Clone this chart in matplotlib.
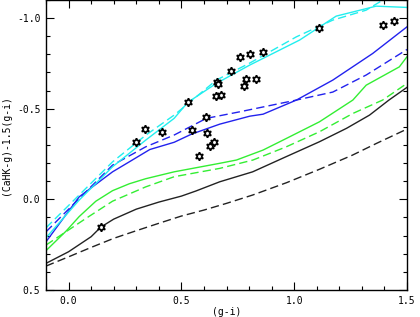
import matplotlib
matplotlib.use('Agg')
import matplotlib.pyplot as plt
from matplotlib.ticker import MultipleLocator

# model tracks, (g-i) vs (CaHK-g)-1.5(g-i)
black_x = [-0.1, 0.0, 0.1, 0.143, 0.2, 0.3, 0.4, 0.5, 0.564, 0.67, 0.816, 0.958, 1.112, 1.232, 1.334, 1.42, 1.5]
black_y = [0.353, 0.289, 0.206, 0.153, 0.109, 0.054, 0.015, -0.018, -0.046, -0.097, -0.152, -0.232, -0.318, -0.392, -0.465, -0.548, -0.618]

black_dash_x = [-0.1, 0.0, 0.1, 0.2, 0.3, 0.4, 0.5, 0.6, 0.7, 0.816, 0.966, 1.112, 1.258, 1.365, 1.5]
black_dash_y = [0.368, 0.317, 0.265, 0.215, 0.173, 0.132, 0.092, 0.059, 0.022, -0.024, -0.092, -0.166, -0.244, -0.309, -0.388]

green_x = [-0.1, -0.011, 0.047, 0.121, 0.195, 0.269, 0.342, 0.468, 0.67, 0.744, 0.862, 0.965, 1.112, 1.26, 1.319, 1.466, 1.5]
green_y = [0.283, 0.175, 0.095, 0.01, -0.048, -0.086, -0.114, -0.152, -0.199, -0.217, -0.272, -0.336, -0.428, -0.548, -0.63, -0.731, -0.787]

green_dash_x = [-0.1, 0.077, 0.195, 0.342, 0.468, 0.67, 0.817, 0.965, 1.112, 1.26, 1.392, 1.5]
green_dash_y = [0.252, 0.105, 0.01, -0.069, -0.125, -0.171, -0.217, -0.29, -0.373, -0.474, -0.548, -0.64]

blue_x = [-0.1, 0.047, 0.195, 0.269, 0.36, 0.468, 0.545, 0.67, 0.803, 0.862, 1.01, 1.171, 1.348, 1.5]
blue_y = [0.234, -0.014, -0.152, -0.207, -0.275, -0.315, -0.36, -0.415, -0.459, -0.47, -0.548, -0.658, -0.805, -0.952]

blue_dash_x = [-0.1, 0.195, 0.342, 0.468, 0.611, 0.758, 1.01, 1.171, 1.319, 1.5]
blue_dash_y = [0.179, -0.189, -0.29, -0.355, -0.447, -0.483, -0.548, -0.592, -0.686, -0.827]

cyan_x = [-0.1, 0.047, 0.195, 0.342, 0.468, 0.528, 0.655, 0.803, 1.024, 1.186, 1.363, 1.5]
cyan_y = [0.212, 0.004, -0.18, -0.327, -0.447, -0.535, -0.64, -0.741, -0.879, -1.011, -1.066, -1.059]

cyan_dash_x = [-0.1, 0.047, 0.195, 0.342, 0.468, 0.655, 0.803, 1.01, 1.171, 1.319, 1.392, 1.5]
cyan_dash_y = [0.157, -0.024, -0.207, -0.354, -0.465, -0.658, -0.752, -0.897, -0.989, -1.044, -1.099, -1.155]

# observed stars
star_gi = [0.143, 0.301, 0.338, 0.415, 0.528, 0.545, 0.577, 0.607, 0.615, 0.627, 0.645,
           0.655, 0.660, 0.664, 0.674, 0.719, 0.762, 0.777, 0.788, 0.806, 0.832, 0.860,
           1.112, 1.394, 1.444]
star_ca = [0.151, -0.318, -0.389, -0.370, -0.535, -0.382, -0.237, -0.456, -0.364, -0.292, -0.318,
           -0.571, -0.649, -0.635, -0.575, -0.708, -0.787, -0.623, -0.665, -0.800, -0.665, -0.814,
           -0.943, -0.960, -0.985]

fig = plt.figure(figsize=(4.2, 3.17), dpi=100)
ax = fig.add_axes([46 / 420, 1 - 290 / 317, 361 / 420, 290 / 317])

dash = (0, (6, 3))
lw = 1.0
ax.plot(black_x, black_y, color='#222222', lw=lw)
ax.plot(black_dash_x, black_dash_y, color='#222222', lw=lw, linestyle=dash)
ax.plot(green_x, green_y, color='#33ee33', lw=lw)
ax.plot(green_dash_x, green_dash_y, color='#33ee33', lw=lw, linestyle=dash)
ax.plot(blue_x, blue_y, color='#2222ee', lw=lw)
ax.plot(blue_dash_x, blue_dash_y, color='#2222ee', lw=lw, linestyle=dash)
ax.plot(cyan_x, cyan_y, color='#22eeee', lw=lw)
ax.plot(cyan_dash_x, cyan_dash_y, color='#22eeee', lw=lw, linestyle=dash)

ax.plot(star_gi, star_ca, linestyle='none', marker=(6, 1, 0), markersize=6,
        markerfacecolor='white', markeredgecolor='black', markeredgewidth=1.2)

ax.set_xlim(-0.1, 1.5)
ax.set_ylim(0.5, -1.1)

ax.xaxis.set_major_locator(MultipleLocator(0.5))
ax.xaxis.set_minor_locator(MultipleLocator(0.1))
ax.yaxis.set_major_locator(MultipleLocator(0.5))
ax.yaxis.set_minor_locator(MultipleLocator(0.1))
ax.tick_params(which='both', direction='in', top=True, right=True, width=0.8)
ax.tick_params(which='major', length=6, pad=4)
ax.tick_params(which='minor', length=3)
for s in ax.spines.values():
    s.set_linewidth(1.0)

font = 'DejaVu Sans Mono'
ax.set_xticklabels([f'{v:.1f}' for v in ax.get_xticks()], family=font, fontsize=7)
ax.set_yticklabels([f'{v:.1f}' for v in ax.get_yticks()], family=font, fontsize=7)
ax.set_xlabel('(g-i)', family=font, fontsize=7, labelpad=1)
ax.set_ylabel('(CaHK-g)-1.5(g-i)', family=font, fontsize=7, labelpad=4)

plt.savefig('out.png', dpi=100)
